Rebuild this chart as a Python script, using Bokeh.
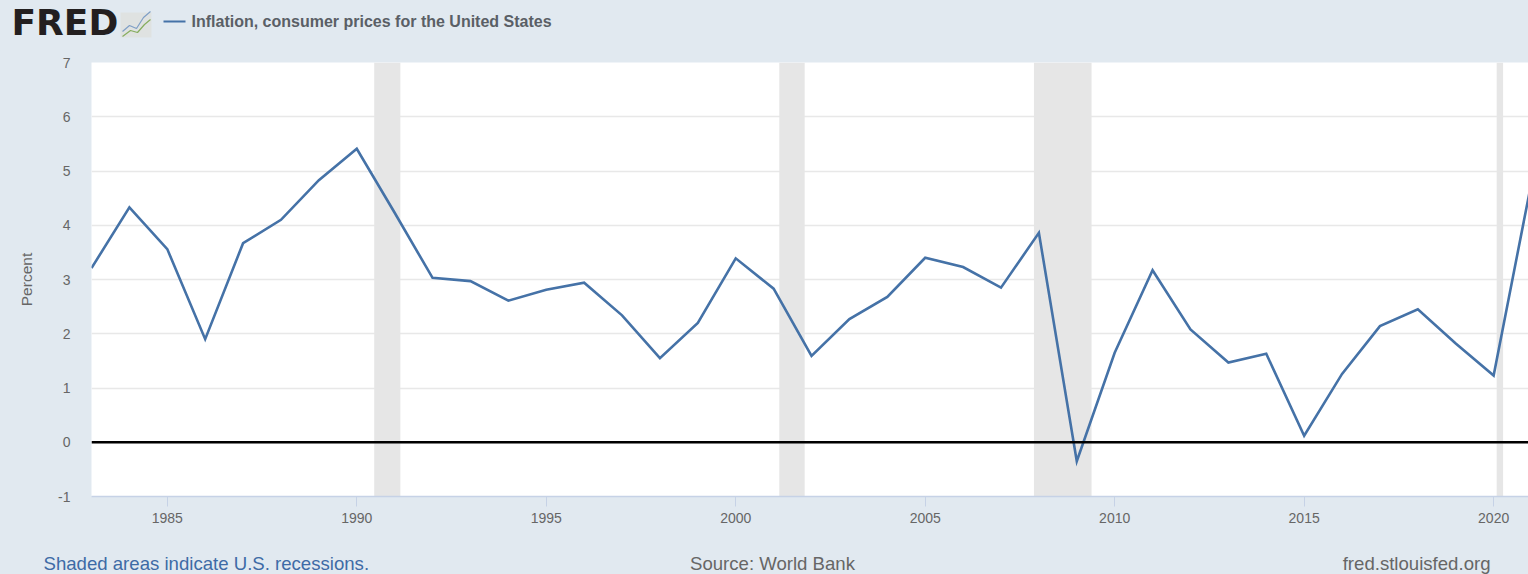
from bokeh.plotting import figure
from bokeh.layouts import column
from bokeh.embed import file_html
from bokeh.resources import INLINE
from bokeh.core.properties import value
from bokeh.models import FixedTicker, Span, Range1d, GlobalInlineStyleSheet

years = list(range(1983, 2022))
inflation = [3.21, 4.33, 3.56, 1.90, 3.67, 4.10, 4.83, 5.41, 4.23, 3.03, 2.97, 2.61, 2.81, 2.94,
             2.34, 1.55, 2.20, 3.39, 2.83, 1.59, 2.27, 2.68, 3.40, 3.23, 2.85, 3.86, -0.35, 1.65,
             3.17, 2.08, 1.47, 1.63, 0.12, 1.26, 2.14, 2.45, 1.82, 1.23, 4.80]
recession_start = [1990.46, 2001.15, 2007.87, 2020.08]
recession_end = [1991.15, 2001.82, 2009.39, 2020.25]
x_ticks = [1985, 1990, 1995, 2000, 2005, 2010, 2015, 2020]
y_ticks = [-1, 0, 1, 2, 3, 4, 5, 6, 7]
series_name = "Inflation, consumer prices for the United States"
footer_left = "Shaded areas indicate U.S. recessions."
footer_mid = "Source: World Bank"
footer_right = "fred.stlouisfed.org"

BG = "#e1e9f0"
FONT = "Liberation Sans"
W = 1528
HEAD_H = 50
FOOT_H = 40


def strip(top, height):
    f = figure(width=W, height=height, output_backend="svg", toolbar_location=None,
               x_range=Range1d(0, W), y_range=Range1d(top + height, top),
               x_axis_location=None, y_axis_location=None, frame_align=False,
               min_border=0, background_fill_color=BG, border_fill_color=BG, outline_line_color=None)
    f.grid.visible = False
    return f


def text(f, x, y, s, size, color, align="left", font=FONT, style="normal"):
    f.text([x], [y], text=[s], text_font=value(font), text_font_size=value(size), text_color=color,
           text_align=align, text_baseline="alphabetic", text_font_style=style)


# header: logo and legend
head = strip(0, HEAD_H)
text(head, 11, 22, "FRED", "36px", "#231f20", font="DejaVu Sans", style="bold")
head.quad(left=[120], right=[151], top=[12], bottom=[37], fill_color="#dfe1df", fill_alpha=0.9, line_color=None)
head.line([122, 129, 136, 143, 150], [31, 25, 28, 17, 11], line_color="#7f9fc6", line_width=1.2)
head.line([122, 130, 137, 144, 150], [36, 30, 32, 24, 19], line_color="#86ad5e", line_width=1.2)
head.line([163, 185], [21, 21], line_color="#4572a7", line_width=2)
text(head, 191, 21, series_name, "16px", "#5a5f66", style="bold")

# chart
p = figure(width=W, height=574 - HEAD_H - FOOT_H, output_backend="svg", toolbar_location=None,
           x_range=Range1d(1983, 2020.92), y_range=Range1d(-1, 7), frame_align=False,
           min_border_left=91, min_border_right=0, min_border_top=62 - HEAD_H,
           min_border_bottom=574 - FOOT_H - 496,
           background_fill_color="white", border_fill_color=BG, outline_line_color=None)

p.xaxis.ticker = FixedTicker(ticks=x_ticks)
p.yaxis.ticker = FixedTicker(ticks=y_ticks)
p.yaxis.major_label_overrides = {-1: "-1"}
p.xgrid.visible = False
p.ygrid.grid_line_color = "#e8e8e8"
p.ygrid.grid_line_width = 1.5

p.xaxis.axis_line_color = "#c6d2e6"
p.xaxis.axis_line_width = 1.5
p.xaxis.major_tick_line_color = "#c6d2e6"
p.xaxis.major_tick_in = 0
p.xaxis.major_tick_out = 10
p.xaxis.minor_tick_line_color = None
p.xaxis.major_label_text_color = "#666666"
p.xaxis.major_label_text_font = FONT
p.xaxis.major_label_text_font_size = "14px"
p.xaxis.major_label_standoff = 6

p.yaxis.axis_line_color = None
p.yaxis.major_tick_line_color = None
p.yaxis.minor_tick_line_color = None
p.yaxis.major_label_text_color = "#666666"
p.yaxis.major_label_text_font = FONT
p.yaxis.major_label_text_font_size = "14px"
p.yaxis.major_label_standoff = 15
p.yaxis.axis_label = "Percent"
p.yaxis.axis_label_text_color = "#666666"
p.yaxis.axis_label_text_font = FONT
p.yaxis.axis_label_text_font_size = "15.5px"
p.yaxis.axis_label_text_font_style = "normal"
p.yaxis.axis_label_standoff = 20

p.quad(left=recession_start, right=recession_end, bottom=-1, top=7,
       fill_color="#e6e6e6", line_color=None)
p.add_layout(Span(location=0, dimension="width", line_color="black", line_width=2.5))
p.line(years, inflation, line_color="#4572a7", line_width=2.6, line_join="miter")

# footer
foot = strip(574 - FOOT_H, FOOT_H)
text(foot, 43, 563, footer_left, "18.6px", "#3e6ba6")
text(foot, 772, 563, footer_mid, "18.6px", "#666666", align="center")
text(foot, 1490, 563, footer_right, "18.6px", "#666666", align="right")

page = column(head, p, foot, spacing=0)
page.stylesheets = [GlobalInlineStyleSheet(css=f"html,body{{margin:0;padding:0;background:{BG};overflow:hidden}}")]

open("out.html", "w").write(file_html(page, INLINE))
